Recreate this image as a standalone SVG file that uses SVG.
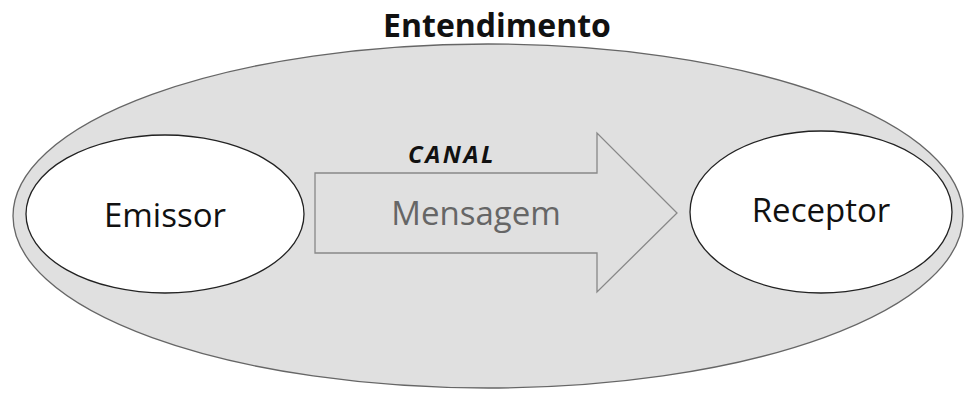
<svg xmlns="http://www.w3.org/2000/svg" width="975" height="419" viewBox="0 0 975 419">
<style>
.t{font-family:"Open Sans","Liberation Sans",sans-serif;text-anchor:middle}
.node{fill:#ffffff;stroke:#222;stroke-width:1.3}
</style>
<rect width="975" height="419" fill="#ffffff"/>
<g id="entendimento">
<ellipse cx="488" cy="216" rx="475" ry="172" fill="#e0e0e0" stroke="#666" stroke-width="1.3"/>
<text class="t" x="497" y="37" font-size="32" font-weight="bold" fill="#111">Entendimento</text>
</g>
<g id="emissor">
<ellipse class="node" cx="165" cy="214" rx="139" ry="79"/>
<text class="t" x="165" y="227" font-size="33" fill="#111">Emissor</text>
</g>
<g id="receptor">
<ellipse class="node" cx="821" cy="212" rx="131" ry="81"/>
<text class="t" x="821" y="222" font-size="33" fill="#111">Receptor</text>
</g>
<g id="connectors">
<g id="canal">
<polygon points="315,173 597,173 597,133 677,213 597,292 597,253 315,253" fill="#e0e0e0" stroke="#888" stroke-width="1.3"/>
<text class="t" x="476" y="225" font-size="33" fill="#666">Mensagem</text>
<text class="t" x="452" y="163" font-size="24" font-weight="bold" font-style="italic" letter-spacing="2.5" fill="#111">CANAL</text>
</g>
</g>
</svg>
